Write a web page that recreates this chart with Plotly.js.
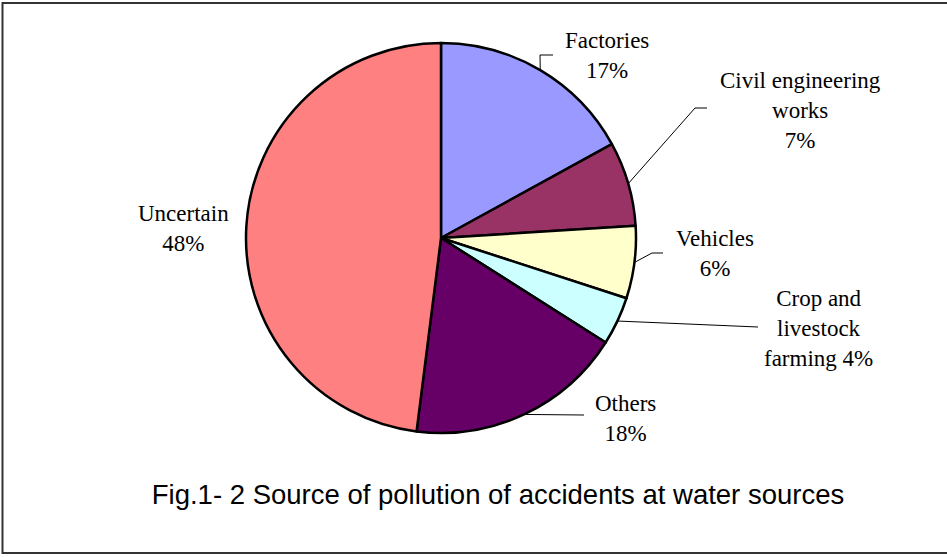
<!DOCTYPE html>
<html>
<head>
<meta charset="utf-8">
<script src="https://cdn.plot.ly/plotly-3.0.1.min.js"></script>
<style>
  html, body { margin: 0; padding: 0; background: #fff; }
  #chart { width: 947px; height: 557px; }
</style>
</head>
<body>
<div id="chart"></div>
<script>
// Sources of pollution accidents at water sources (share, %)
const categories = ['Factories', 'Civil engineering works', 'Vehicles', 'Crop and livestock farming', 'Others', 'Uncertain'];
const shares = [17, 7, 6, 4, 18, 48];
// Label text as wrapped on the chart
const labelNames = ['Factories', 'Civil engineering<br>works', 'Vehicles', 'Crop and<br>livestock<br>farming', 'Others', 'Uncertain'];
const percentJoin = ['<br>', '<br>', '<br>', ' ', '<br>', '<br>'];
const sliceColors = ['#9999FF', '#993366', '#FFFFCC', '#CCFFFF', '#660066', '#FF8080'];

const W = 947, H = 557;
// pie geometry in pixels
const CX = 441, CY = 238, R = 195;
const px = x => x / W;
const py = y => 1 - y / H;

// label centres and leader-line bends (pixels)
const labelPos = [[607, 55], [800, 110], [715, 253], [818, 328], [625, 418], [183, 228]];
const bends = [
  [[540, 55], [553, 55]],
  [[695, 108], [707, 108]],
  [[652, 253], [663, 253]],
  [[758, 327]],
  [[584, 415]],
  null
];

const total = shares.reduce((a, b) => a + b, 0);
const annotations = [];
const shapes = [];
let cum = 0;
shares.forEach((v, i) => {
  const mid = (cum + v / 2) / total * 2 * Math.PI; // clockwise from 12 o'clock
  cum += v;
  const pct = Math.round(v / total * 100) + '%';
  annotations.push({
    xref: 'paper', yref: 'paper',
    x: px(labelPos[i][0]), y: py(labelPos[i][1]),
    xanchor: 'center', yanchor: 'middle',
    text: labelNames[i] + percentJoin[i] + pct,
    showarrow: false, align: 'center',
    font: { family: 'Liberation Serif, serif', size: 23, color: '#000' }
  });
  if (bends[i]) {
    const sx = CX + R * Math.sin(mid), sy = CY - R * Math.cos(mid);
    let d = 'M ' + px(sx) + ',' + py(sy);
    bends[i].forEach(p => { d += ' L ' + px(p[0]) + ',' + py(p[1]); });
    shapes.push({ type: 'path', xref: 'paper', yref: 'paper', path: d,
      line: { color: '#000', width: 1 } });
  }
});

// outer frame
shapes.push({ type: 'rect', xref: 'paper', yref: 'paper',
  x0: px(2.5), x1: px(960), y0: py(553), y1: py(3),
  line: { color: '#333', width: 2 }, fillcolor: 'rgba(0,0,0,0)' });

const trace = {
  type: 'pie',
  labels: categories,
  values: shares,
  sort: false,
  direction: 'clockwise',
  rotation: 0,
  textinfo: 'none',
  hoverinfo: 'label+percent',
  marker: { colors: sliceColors, line: { color: '#000', width: 2.5 } },
  domain: { x: [px(CX - R), px(CX + R)], y: [py(CY + R), py(CY - R)] },
  showlegend: false
};

const layout = {
  width: W, height: H,
  margin: { l: 0, r: 0, t: 0, b: 0 },
  paper_bgcolor: '#fff',
  showlegend: false,
  title: {
    text: 'Fig.1- 2 Source of pollution of accidents at water sources',
    x: px(498), xanchor: 'center', xref: 'paper',
    y: py(494), yanchor: 'middle', yref: 'paper',
    font: { family: 'Liberation Sans, Arial, sans-serif', size: 27.5, color: '#000' }
  },
  annotations: annotations,
  shapes: shapes
};

Plotly.newPlot('chart', [trace], layout, { displayModeBar: false, staticPlot: true });
</script>
</body>
</html>
